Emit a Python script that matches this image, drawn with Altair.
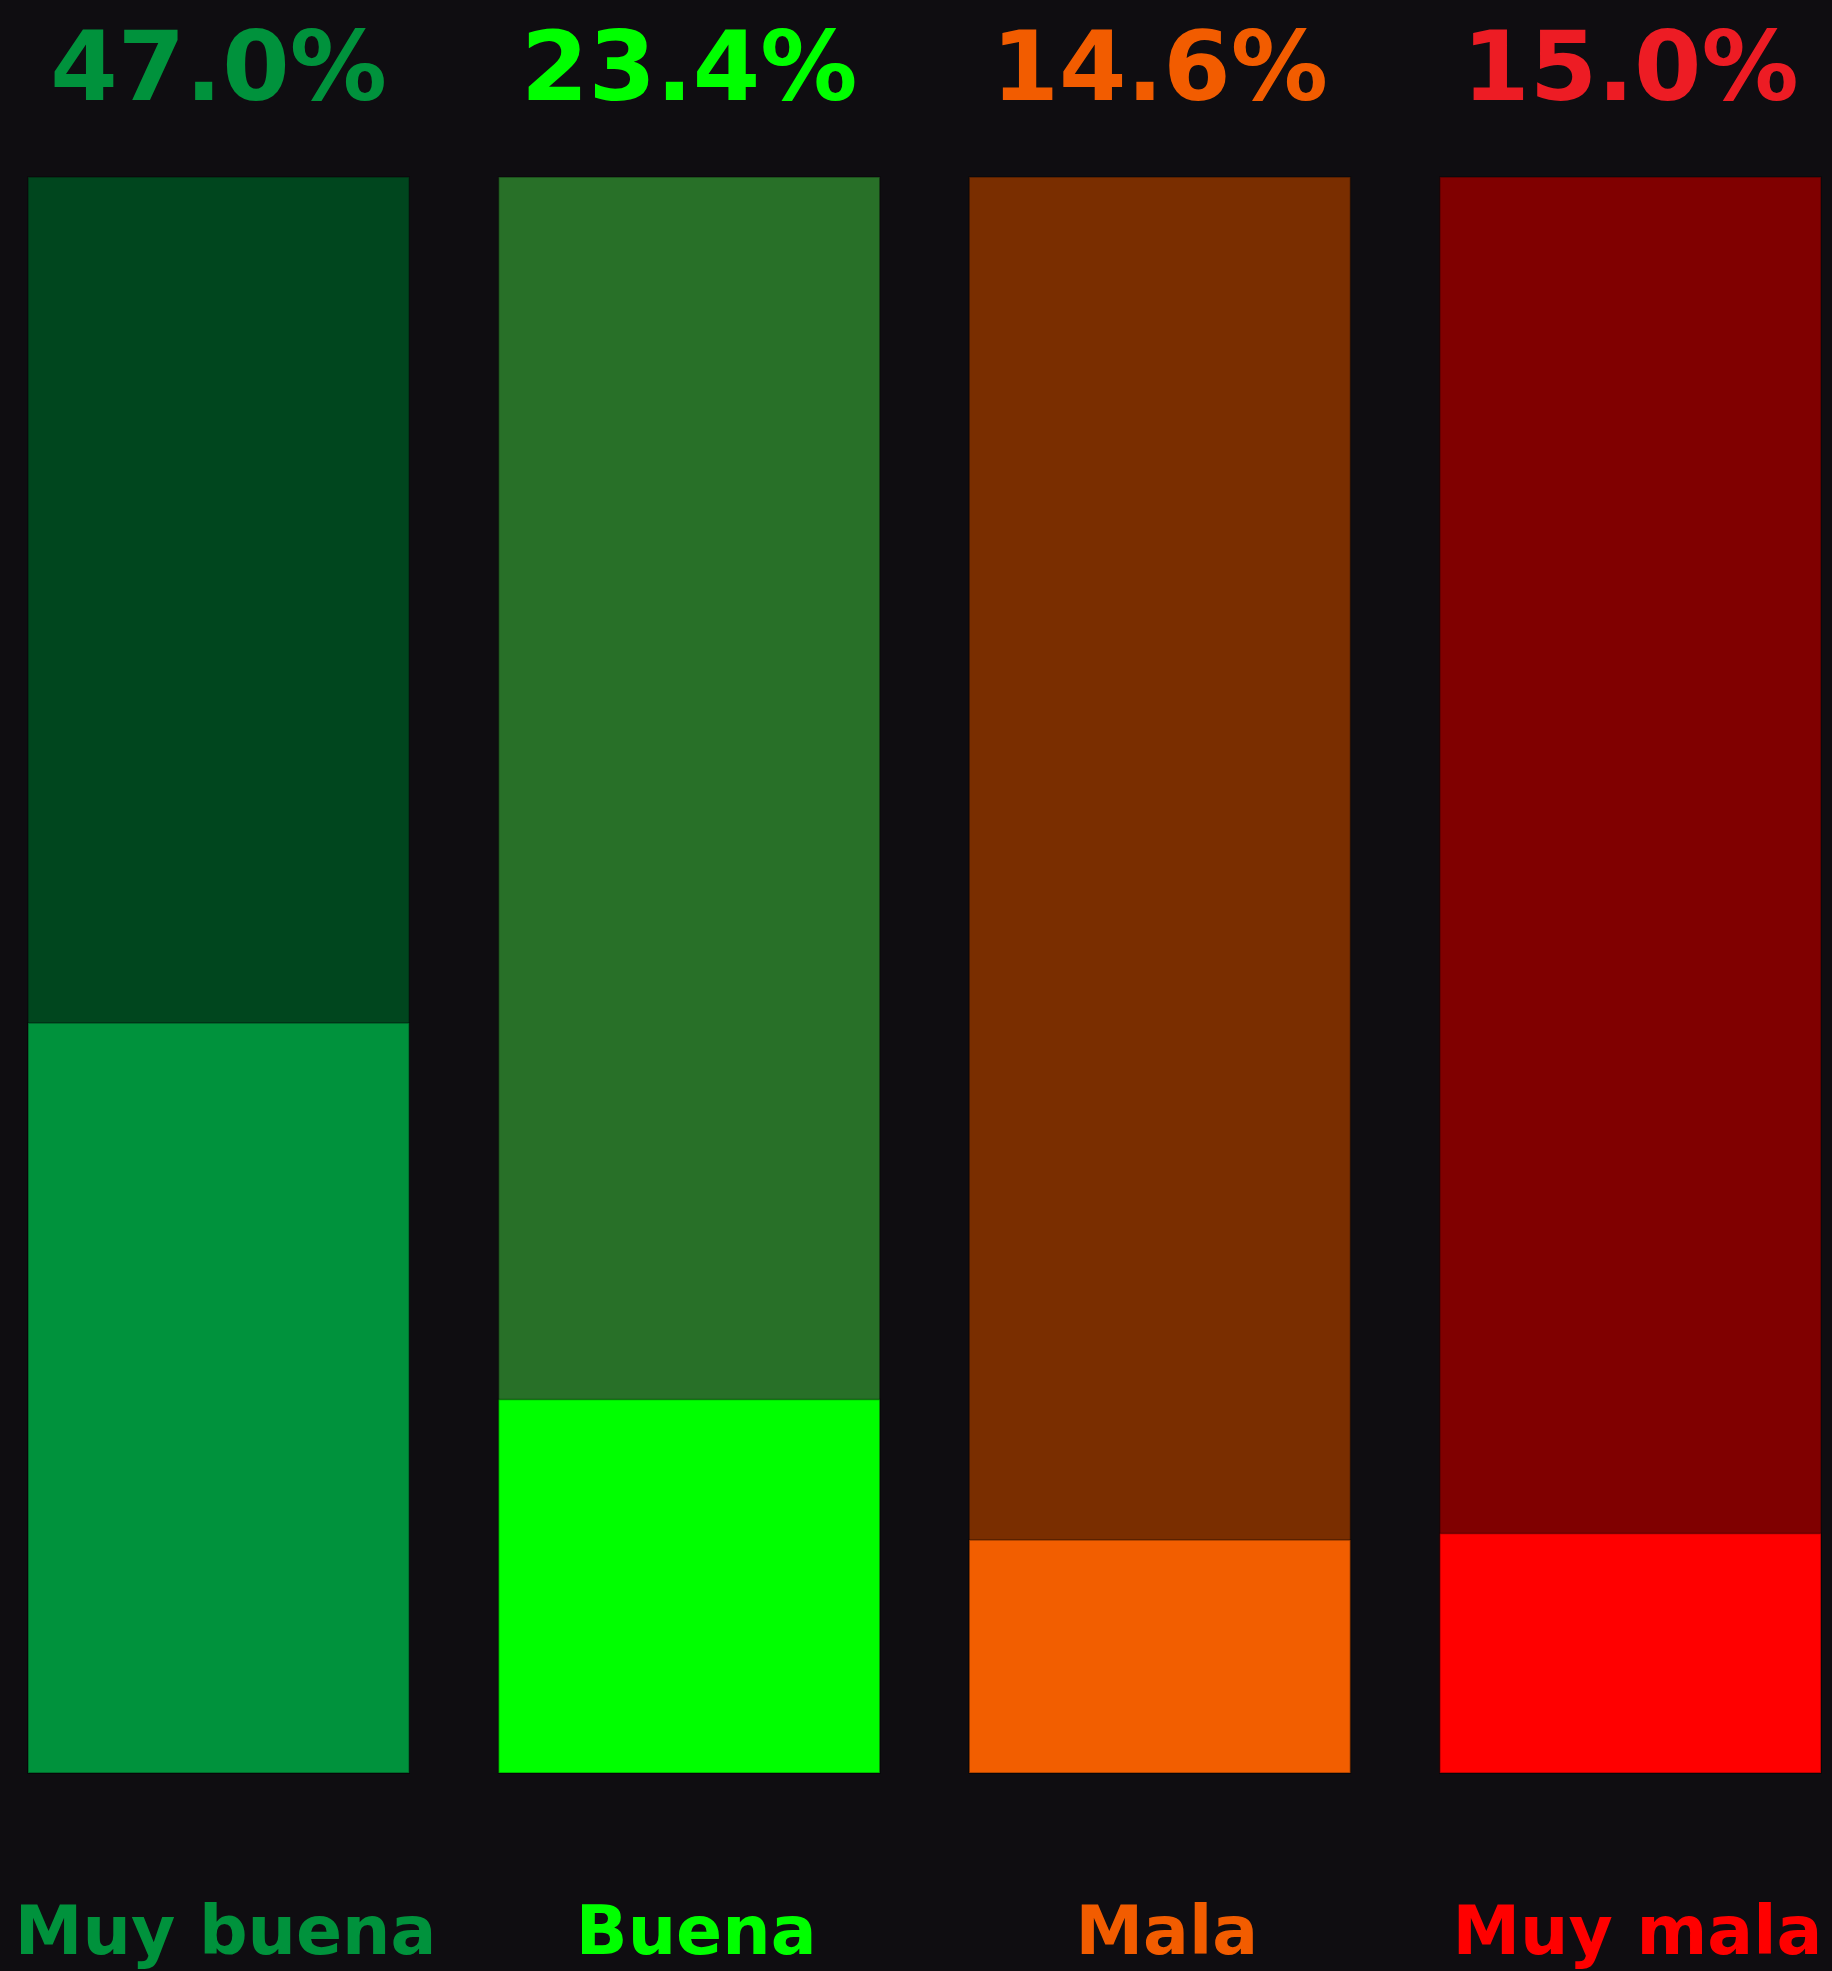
import altair as alt
import pandas as pd

categories = ["Muy buena", "Buena", "Mala", "Muy mala"]
percentages = [47.0, 23.4, 14.6, 15.0]
full_scale = [100, 100, 100, 100]
track_colors = ["#00461E", "#287028", "#7A2E00", "#800000"]
fill_colors = ["#00923C", "#00FF00", "#F25E00", "#FF0000"]
pct_text_colors = ["#00923C", "#00FF00", "#F25C00", "#ED1C24"]
name_text_colors = ["#00923C", "#00FF00", "#F25C00", "#FF0000"]
page_bg = "#0F0D11"

df = pd.DataFrame({
    "cat": categories,
    "pct": percentages,
    "full": full_scale,
    "track": track_colors,
    "fillc": fill_colors,
    "pctc": pct_text_colors,
    "namec": name_text_colors,
})
df["pct_label"] = df["pct"].map(lambda v: f"{v:.1f}%")

x = alt.X("cat:N", sort=categories, axis=None,
          scale=alt.Scale(range=[28, 1821], paddingInner=0.19, paddingOuter=0))
y_scale = alt.Scale(domain=[0, 100], range=[1773, 177])

base = alt.Chart(df)

track = base.mark_bar(stroke="#000000", strokeOpacity=0.35, strokeWidth=1.5).encode(
    x=x,
    y=alt.Y("full:Q", scale=y_scale, axis=None),
    color=alt.Color("track:N", scale=None),
)

fill = base.mark_bar(stroke="#000000", strokeOpacity=0.35, strokeWidth=1.5).encode(
    x=x,
    y=alt.Y("pct:Q", scale=y_scale, axis=None),
    color=alt.Color("fillc:N", scale=None),
)

pct_text = base.mark_text(font="DejaVu Sans", fontWeight="bold", fontSize=97,
                          baseline="alphabetic", align="center", dy=-77).encode(
    x=x,
    y=alt.Y("full:Q", scale=y_scale, axis=None),
    text="pct_label:N",
    color=alt.Color("pctc:N", scale=None),
)

name_text = base.mark_text(font="DejaVu Sans", fontWeight="bold", fontSize=68,
                           baseline="alphabetic", align="center", dy=181, dx=7).encode(
    x=x,
    y=alt.datum(0),
    text="cat:N",
    color=alt.Color("namec:N", scale=None),
)

chart = alt.layer(track, fill, pct_text, name_text).properties(
    width=1832, height=1971, padding=0,
    autosize=alt.AutoSizeParams(type="none"),
    background=page_bg,
).configure_view(stroke=None)

chart.save("out.html", embed_options={
    "renderer": "svg", "actions": False,
    "defaultStyle": "html,body{margin:0;padding:0;overflow:hidden;background:" + page_bg + ";} svg{display:block;}",
})
